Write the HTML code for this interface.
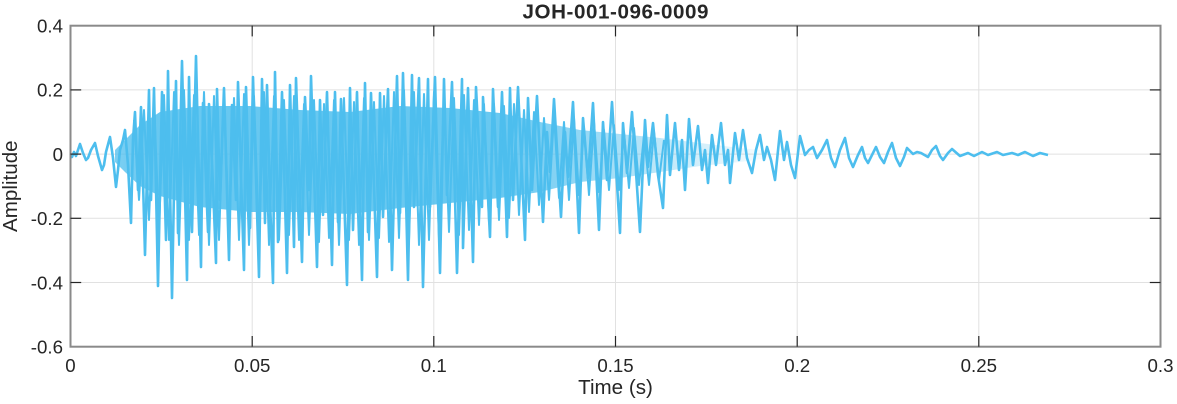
<!DOCTYPE html>
<html>
<head>
<meta charset="utf-8">
<style>
html,body{margin:0;padding:0;background:#fff;}
svg{display:block;}
text{font-family:"Liberation Sans",Arial,sans-serif;fill:#262626;}
</style>
</head>
<body>
<svg width="1177" height="404" viewBox="0 0 1177 404" xmlns="http://www.w3.org/2000/svg">
<defs>
<linearGradient id="cg" gradientUnits="userSpaceOnUse" x1="100" y1="0" x2="780" y2="0">
<stop offset="0" stop-color="#4DBEEE" stop-opacity="0.7"/>
<stop offset="0.08" stop-color="#4DBEEE" stop-opacity="0.85"/>
<stop offset="0.59" stop-color="#4DBEEE" stop-opacity="0.85"/>
<stop offset="0.735" stop-color="#4DBEEE" stop-opacity="0.55"/>
<stop offset="0.88" stop-color="#4DBEEE" stop-opacity="0.25"/>
<stop offset="1" stop-color="#4DBEEE" stop-opacity="0"/>
</linearGradient>
</defs>
<rect x="0" y="0" width="1177" height="404" fill="#fff"/>
<!-- grid -->
<g stroke="#e1e1e1" stroke-width="1">
<line x1="252.2" y1="25.7" x2="252.2" y2="346.7"/>
<line x1="433.8" y1="25.7" x2="433.8" y2="346.7"/>
<line x1="615.5" y1="25.7" x2="615.5" y2="346.7"/>
<line x1="797.2" y1="25.7" x2="797.2" y2="346.7"/>
<line x1="978.8" y1="25.7" x2="978.8" y2="346.7"/>
<line x1="70.5" y1="89.9" x2="1160.5" y2="89.9"/>
<line x1="70.5" y1="154.1" x2="1160.5" y2="154.1"/>
<line x1="70.5" y1="218.3" x2="1160.5" y2="218.3"/>
<line x1="70.5" y1="282.5" x2="1160.5" y2="282.5"/>
</g>
<!-- dense core -->
<polygon fill="url(#cg)" points="115,150 125,140 140,125 160,112 200,106 250,106 300,110 350,112 400,106 450,108 500,113 540,122 580,130 620,134 660,138 700,143 740,148 770,151 770,158 740,162 700,166 660,172 620,178 580,182 540,192 500,198 450,203 400,208 350,214 300,212 250,212 200,207 160,196 140,186 125,172 115,162"/>
<!-- secondary oscillations -->
<polyline fill="none" stroke="#4DBEEE" stroke-width="2" stroke-linejoin="round" points="134,120 139,200 144,110 149,220 154,100 159,230 164,95 169,240 174,92 179,245 184,90 189,240 194,95 199,235 204,92 209,245 214,96 219,240 224,95 229,235 234,98 239,240 244,94 249,245 254,96 259,238 264,92 269,245 274,96 279,240 284,100 289,235 294,96 299,240 304,104 309,235 314,100 319,242 324,104 329,238 334,100 339,245 344,98 349,240 354,102 359,245 364,98 369,240 374,102 379,238 384,96 389,242 394,92 399,238 404,90 409,240 414,92 419,245 424,94 429,240 434,92 439,238 444,96 449,232 454,98 459,235 464,95 469,230 474,100 479,225 484,104 489,222 494,104 499,220 504,106 509,218 514,104 519,215 524,110 529,212 534,112 539,205 544,118 549,200 554,115 559,198 564,122 569,200 574,118 579,195 584,128 589,195 594,122 599,192 604,130 609,190 614,125 619,190 624,132 629,188 634,128 639,185 644,135 649,185 654,132 659,180 664,140"/>
<!-- signal -->
<polyline fill="none" stroke="#4DBEEE" stroke-width="2.6" stroke-linejoin="round" points="70.5,154 72,157 74,152 76,156 78,150 80,144 83,153 86,160 88,158 91,150 95,143 98,156 102,170 104,165 106,152 110,137 113,158 116,187 118,170 120,150 123,140 125,130 128,165 131,223 133,140 135,112 138,190 141,107 145,255 149,90 151,200 154,88 158,286 162,92 166,240 168,71 172,298 176,81 178,233 182,61 187,280 189,77 192,232 196,56 201,267 203,103 208,232 209,104 213,185 216,263 217,89 220,200 224,88 229,260 232,105 236,200 238,82 244,270 246,87 250,228 253,77 259,277 262,79 265,223 267,85 270,200 273,283 275,72 278,242 282,92 287,273 290,85 294,247 296,78 302,262 305,97 309,190 311,76 317,267 320,100 323,215 327,92 332,265 335,92 338,222 341,99 347,285 350,88 353,230 357,92 362,280 365,83 368,232 371,93 377,277 380,93 383,217 388,89 392,270 397,76 400,213 403,73 408,280 412,75 414,207 419,78 423,287 428,79 430,207 435,77 440,273 444,79 447,195 452,82 457,273 462,79 463,248 468,88 473,262 476,87 482,207 483,97 490,237 493,89 498,207 502,92 507,237 510,88 513,200 518,87 525,240 528,98 532,190 537,96 543,222 547,132 550,172 554,99 561,217 565,132 568,177 573,102 579,233 583,118 588,178 593,103 599,230 603,122 607,180 612,102 620,233 623,123 627,173 632,112 640,232 645,120 648,167 653,123 658,175 663,208 667,115 670,175 675,123 679,170 682,140 685,190 689,119 693,165 698,126 702,170 705,150 708,183 712,135 716,165 721,123 725,165 728,150 730,183 735,133 739,160 743,130 747,158 752,173 756,150 760,135 764,160 767,147 771,160 775,180 780,131 784,160 787,142 791,165 795,178 800,136 805,155 809,150 813,147 817,158 822,150 827,140 831,158 835,167 840,150 845,138 849,158 853,167 858,155 862,147 865,158 868,163 872,155 876,147 880,157 884,163 888,152 892,143 896,158 900,166 904,157 907,148 913,154 917,152 921,153 928,157 932,150 936,146 940,156 943,160 948,153 952,149 960,156 968,153 974,156 982,152 988,155 997,152 1003,155 1012,153 1018,155 1025,152 1033,156 1040,153 1048,155"/>
<!-- axes box -->
<rect x="70.5" y="25.7" width="1090" height="321" fill="none" stroke="#8a8a8a" stroke-width="2"/>
<!-- ticks -->
<g stroke="#262626" stroke-width="1.2">
<line x1="252.2" y1="346.7" x2="252.2" y2="336"/>
<line x1="433.8" y1="346.7" x2="433.8" y2="336"/>
<line x1="615.5" y1="346.7" x2="615.5" y2="336"/>
<line x1="797.2" y1="346.7" x2="797.2" y2="336"/>
<line x1="978.8" y1="346.7" x2="978.8" y2="336"/>
<line x1="252.2" y1="25.7" x2="252.2" y2="36.4"/>
<line x1="433.8" y1="25.7" x2="433.8" y2="36.4"/>
<line x1="615.5" y1="25.7" x2="615.5" y2="36.4"/>
<line x1="797.2" y1="25.7" x2="797.2" y2="36.4"/>
<line x1="978.8" y1="25.7" x2="978.8" y2="36.4"/>
<line x1="70.5" y1="89.9" x2="81.2" y2="89.9"/>
<line x1="70.5" y1="154.1" x2="81.2" y2="154.1"/>
<line x1="70.5" y1="218.3" x2="81.2" y2="218.3"/>
<line x1="70.5" y1="282.5" x2="81.2" y2="282.5"/>
<line x1="1160.5" y1="89.9" x2="1149.8" y2="89.9"/>
<line x1="1160.5" y1="154.1" x2="1149.8" y2="154.1"/>
<line x1="1160.5" y1="218.3" x2="1149.8" y2="218.3"/>
<line x1="1160.5" y1="282.5" x2="1149.8" y2="282.5"/>
</g>
<!-- x tick labels -->
<g font-size="18.7" text-anchor="middle">
<text x="70.5" y="372">0</text>
<text x="252.2" y="372">0.05</text>
<text x="433.8" y="372">0.1</text>
<text x="615.5" y="372">0.15</text>
<text x="797.2" y="372">0.2</text>
<text x="978.8" y="372">0.25</text>
<text x="1160.5" y="372">0.3</text>
</g>
<!-- y tick labels -->
<g font-size="18.7" text-anchor="end">
<text x="63" y="32.5">0.4</text>
<text x="63" y="96.7">0.2</text>
<text x="63" y="160.9">0</text>
<text x="63" y="225.1">-0.2</text>
<text x="63" y="289.3">-0.4</text>
<text x="63" y="353.5">-0.6</text>
</g>
<!-- labels -->
<text x="615.5" y="394" font-size="20.6" text-anchor="middle">Time (s)</text>
<text transform="translate(17,186.2) rotate(-90)" font-size="20.6" text-anchor="middle">Amplitude</text>
<text x="615.5" y="18.7" font-size="20.6" font-weight="bold" text-anchor="middle" textLength="186" lengthAdjust="spacing">JOH-001-096-0009</text>
</svg>
</body>
</html>
